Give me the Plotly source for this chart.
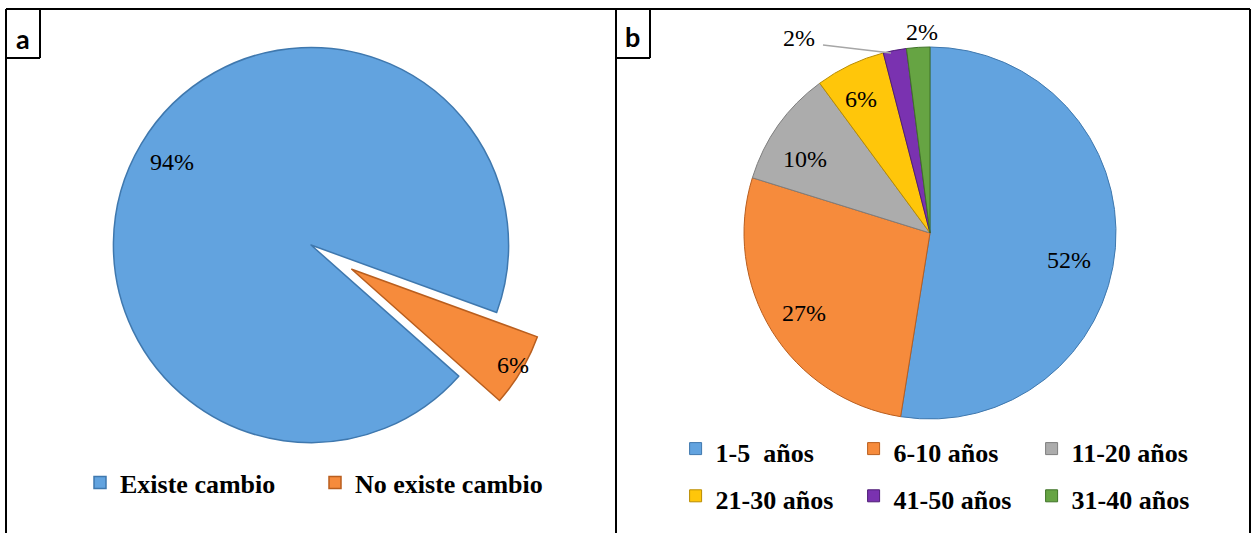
import math
import plotly.graph_objects as go

W, H = 1254, 533
RIGHT_MARGIN = 45  # narrows the plot area so the second legend wraps into rows of three

# Panel a: whether a change exists
change_labels = ["Existe cambio", "No existe cambio"]
change_values = [94, 6]
change_colors = ["#62A3DF", "#F68B3C"]
change_edges = ["#3F78AE", "#B95E1E"]

# Panel b: years ranges
age_labels = ["1-5  años", "6-10 años", "11-20 años", "21-30 años", "41-50 años", "31-40 años"]
age_values = [52, 27, 10, 6, 2, 2]
age_colors = ["#62A3DF", "#F68B3C", "#ACACAC", "#FFC60A", "#7A32B0", "#66A443"]
age_edges = ["#3F78AE", "#B95E1E", "#7E7E7E", "#B98C00", "#4E1C75", "#3F7327"]

panel_tags = ["a", "b"]

SERIF = "Liberation Serif"
LABEL_SIZE = 24

# pie placement (pixels)
A_CX, A_CY, A_HALF, A_PULL, A_ROT = 311, 245, 245, 0.24, 131.6
B_CX, B_CY, B_HALF, B_ROT = 930, 233, 186, 0.0
A_R = A_HALF / (1 + A_PULL)
B_R = B_HALF

# where each percentage sits: fraction of the radius, and a small turn off the slice middle
a_label_radius = [0.82, 0.95]
b_label_radius = [0.76, 0.80, 0.78, 0.81]
b_label_turn = [6.5, -0.6, -5, -2]

PW = W - RIGHT_MARGIN


def fx(x):
    return x / PW


def fy(y):
    return 1 - y / H


def mid_angles(values, rotation):
    total = float(sum(values))
    out, acc = [], rotation
    for v in values:
        span = 360.0 * v / total
        out.append(acc + span / 2)
        acc += span
    return out


def polar(cx, cy, r, ang):
    a = math.radians(ang)
    return cx + r * math.sin(a), cy - r * math.cos(a)


fig = go.Figure()

fig.add_trace(go.Pie(
    labels=change_labels,
    values=change_values,
    sort=False,
    direction="clockwise",
    rotation=A_ROT,
    pull=[0, A_PULL],
    marker=dict(colors=change_colors, line=dict(color=change_edges, width=1.5)),
    textinfo="none",
    domain=dict(x=[fx(A_CX - A_HALF), fx(A_CX + A_HALF)],
                y=[fy(A_CY + A_HALF), fy(A_CY - A_HALF)]),
    legend="legend",
    hoverinfo="label+percent",
))

fig.add_trace(go.Pie(
    labels=[f'<span style="font-size:26px">{s}</span>' for s in age_labels],
    values=age_values,
    sort=False,
    direction="clockwise",
    rotation=B_ROT,
    marker=dict(colors=age_colors, line=dict(color=age_edges, width=1)),
    textinfo="none",
    domain=dict(x=[fx(B_CX - B_HALF), fx(B_CX + B_HALF)],
                y=[fy(B_CY + B_HALF), fy(B_CY - B_HALF)]),
    legend="legend2",
    hoverinfo="label+percent",
))

label_font = dict(family=SERIF, size=LABEL_SIZE, color="black")

# percentage labels of panel a (the pulled slice is offset from the centre)
for i, ang in enumerate(mid_angles(change_values, A_ROT)):
    pull = A_PULL if i == 1 else 0
    cx, cy = polar(A_CX, A_CY, A_R * pull, ang)
    x, y = polar(cx, cy, A_R * a_label_radius[i], ang)
    fig.add_annotation(text=f"{change_values[i]}%", xref="paper", yref="paper",
                       x=fx(x), y=fy(y), xanchor="center", yanchor="middle",
                       showarrow=False, font=label_font)

# percentage labels of panel b inside the larger slices
for i, ang in enumerate(mid_angles(age_values, B_ROT)[:4]):
    x, y = polar(B_CX, B_CY, B_R * b_label_radius[i], ang + b_label_turn[i])
    fig.add_annotation(text=f"{age_values[i]}%", xref="paper", yref="paper",
                       x=fx(x), y=fy(y), xanchor="center", yanchor="middle",
                       showarrow=False, font=label_font)

# the two thinnest slices are labelled above the pie
fig.add_annotation(text=f"{age_values[4]}%", xref="paper", yref="paper",
                   x=fx(799), y=fy(38), xanchor="center", yanchor="middle",
                   showarrow=False, font=label_font)
fig.add_annotation(text=f"{age_values[5]}%", xref="paper", yref="paper",
                   x=fx(922), y=fy(32), xanchor="center", yanchor="middle",
                   showarrow=False, font=label_font)
fig.add_shape(type="line", xref="paper", yref="paper",
              x0=fx(823), y0=fy(45), x1=fx(891), y1=fy(53),
              line=dict(color="#A6A6A6", width=1.5))

# frame lines around both panels and the tag boxes
frame = [
    (6, 9, 1250, 9),
    (6, 9, 6, 533),
    (616, 9, 616, 533),
    (1250, 9, 1250, 533),
    (40, 9, 40, 58), (6, 58, 40, 58),
    (650, 9, 650, 58), (616, 58, 650, 58),
]
for x0, y0, x1, y1 in frame:
    fig.add_shape(type="line", xref="paper", yref="paper",
                  x0=fx(x0), y0=fy(y0), x1=fx(x1), y1=fy(y1),
                  line=dict(color="black", width=2))

for tag, cx, cy in zip(panel_tags, [23, 633], [39, 37]):
    fig.add_annotation(text=f"<b>{tag}</b>", xref="paper", yref="paper",
                       x=fx(cx), y=fy(cy), xanchor="center", yanchor="middle",
                       showarrow=False,
                       font=dict(family="Lato", size=27, color="black"))

fig.update_layout(
    width=W, height=H,
    margin=dict(l=0, r=RIGHT_MARGIN, t=0, b=0, autoexpand=False),
    paper_bgcolor="white",
    plot_bgcolor="white",
    legend=dict(orientation="h", xref="paper", yref="paper",
                x=fx(80), y=fy(459), xanchor="left", yanchor="top",
                entrywidth=190,
                font=dict(family=SERIF, size=26, color="black", weight="bold"),
                bgcolor="rgba(0,0,0,0)"),
    legend2=dict(orientation="h", xref="paper", yref="paper",
                 x=1.0005, y=fy(420), xanchor="right", yanchor="top",
                 entrywidth=133,
                 font=dict(family=SERIF, size=34, color="black", weight="bold"),
                 bgcolor="rgba(0,0,0,0)"),
)

fig.write_html("out.html")
